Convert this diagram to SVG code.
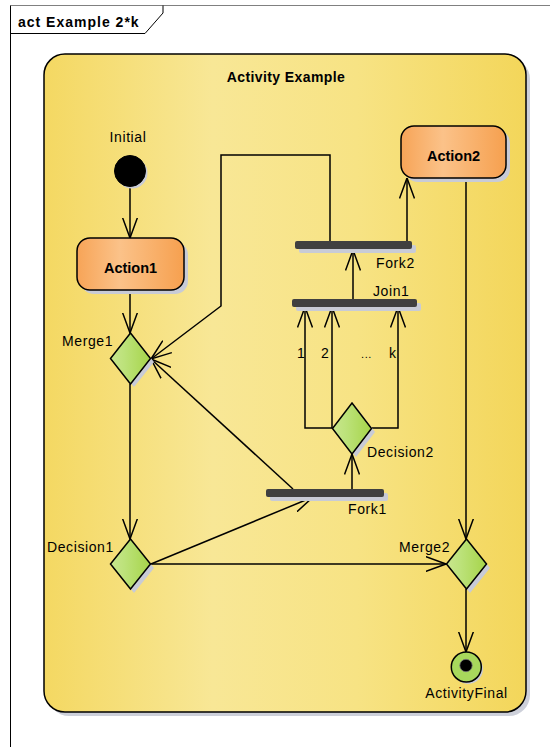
<svg xmlns="http://www.w3.org/2000/svg" width="550" height="747" viewBox="0 0 550 747">
<defs>
<linearGradient id="gAct" x1="0" y1="0" x2="1" y2="0">
<stop offset="0" stop-color="#F4D862"/>
<stop offset="0.35" stop-color="#F8E796"/>
<stop offset="0.65" stop-color="#F7E384"/>
<stop offset="1" stop-color="#F3D65A"/>
</linearGradient>
<linearGradient id="gAction" x1="0" y1="0" x2="1" y2="0">
<stop offset="0" stop-color="#F7A457"/>
<stop offset="0.4" stop-color="#FBC289"/>
<stop offset="1" stop-color="#F6A04F"/>
</linearGradient>
<linearGradient id="gDia" x1="0" y1="0" x2="1" y2="0">
<stop offset="0" stop-color="#C9E68E"/>
<stop offset="0.35" stop-color="#BCE27A"/>
<stop offset="1" stop-color="#A6D449"/>
</linearGradient>
<marker id="arr" viewBox="0 0 21 16" refX="20.5" refY="8" markerWidth="21" markerHeight="16" markerUnits="userSpaceOnUse" orient="auto">
<path d="M0,0.5 L20.5,8 L0,15.5" fill="none" stroke="#000" stroke-width="1.5"/>
</marker>
</defs>
<style>
.lbl{font-family:"Liberation Sans",Arial,sans-serif;font-size:14px;letter-spacing:0.6px;fill:#000}
.bold{font-family:"Liberation Sans",Arial,sans-serif;font-weight:bold;font-size:14px;fill:#000}
.sh{fill:#C8CBD6}
.bar{fill:#404040}
.dia{fill:url(#gDia);stroke:#000;stroke-width:1.5}
.act{fill:url(#gAction);stroke:#000;stroke-width:1.5}
.conn{fill:none;stroke:#000;stroke-width:1.5;marker-end:url(#arr)}
.line{fill:none;stroke:#000;stroke-width:1.5}
</style>
<rect width="550" height="747" fill="#fff"/>
<g id="frame">
<path d="M10.5,747 L10.5,5.5 L550,5.5" fill="none" stroke="#000" stroke-width="1"/>
<path d="M10.5,5.5 L550,5.5" fill="none" stroke="#808080" stroke-width="1.2"/>
<path d="M10.5,33.5 L145,33.5 L163,13 L163,5.5" fill="none" stroke="#000" stroke-width="1"/>
<text x="18" y="26.5" class="bold" style="letter-spacing:1px">act Example 2*k</text>
</g>
<g id="activity">
<rect x="48" y="58" width="482" height="658" rx="21" fill="#CDD0DA"/>
<rect x="44" y="54" width="482" height="658" rx="21" fill="url(#gAct)" stroke="#000" stroke-width="1.5"/>
<text x="286" y="82" class="bold" text-anchor="middle" style="letter-spacing:0.4px">Activity Example</text>
</g>
<g id="connectors">
<path class="conn" d="M130,187 L130,238"/>
<path class="conn" d="M130,290 L130,333"/>
<path class="conn" d="M130,384 L130,539"/>
<path class="conn" d="M151,564 L446,564"/>
<path class="conn" d="M151,564 L313,497"/>
<path class="conn" d="M293,489 L151,359"/>
<path class="conn" d="M352,489 L352,454"/>
<path class="conn" d="M332,428 L305,428 L305,307"/>
<path class="conn" d="M332,428 L332,307"/>
<path class="conn" d="M372,428 L398,428 L398,307"/>
<path class="conn" d="M353,299 L353,250"/>
<path class="conn" d="M407,241 L407,178"/>
<path class="conn" d="M330,241 L330,155 L221,155 L221,306 L151,359"/>
<path class="conn" d="M466,178 L466,539"/>
<path class="conn" d="M466,589 L466,652"/>
<text x="297" y="358" class="lbl">1</text>
<text x="321" y="358" class="lbl">2</text>
<text x="361" y="358" class="lbl" style="font-size:11px">...</text>
<text x="389" y="358" class="lbl">k</text>
</g>
<g id="Initial">
<circle cx="132" cy="173" r="15.5" class="sh"/>
<circle cx="130" cy="171" r="15.5" fill="#000" stroke="#000" stroke-width="1"/>
<text x="128" y="142" class="lbl" text-anchor="middle">Initial</text>
</g>
<g id="Action1">
<rect x="81" y="242" width="107" height="52" rx="13" class="sh"/>
<rect x="77" y="238" width="107" height="52" rx="13" class="act"/>
<text x="130.5" y="273" class="bold" text-anchor="middle" style="font-size:14.5px">Action1</text>
</g>
<g id="Action2">
<rect x="405" y="130" width="105" height="52" rx="13" class="sh"/>
<rect x="401" y="126" width="105" height="52" rx="13" class="act"/>
<text x="453.5" y="161" class="bold" text-anchor="middle" style="font-size:14.5px">Action2</text>
</g>
<g id="Merge1">
<path d="M134,337 L154,362 L134,387 L114,362 Z" class="sh"/>
<path d="M130.5,333 L150.5,358.5 L130.5,384 L110.5,358.5 Z" class="dia"/>
<text x="62" y="346" class="lbl">Merge1</text>
</g>
<g id="Decision1">
<path d="M134,543 L154,568 L134,593 L114,568 Z" class="sh"/>
<path d="M130.5,539 L150.5,564 L130.5,589 L110.5,564 Z" class="dia"/>
<text x="47" y="552" class="lbl">Decision1</text>
</g>
<g id="Merge2">
<path d="M470,543 L490,568 L470,593 L450,568 Z" class="sh"/>
<path d="M466.5,539 L486.5,564 L466.5,589 L446.5,564 Z" class="dia"/>
<text x="399" y="552" class="lbl">Merge2</text>
</g>
<g id="Decision2">
<path d="M356,407 L375,432 L356,457 L337,432 Z" class="sh"/>
<path d="M352,403 L371.5,428.5 L352,454 L332.5,428.5 Z" class="dia"/>
<text x="367" y="457" class="lbl">Decision2</text>
</g>
<g id="Fork1">
<rect x="270" y="493" width="118" height="8" rx="2" class="sh"/>
<rect x="266" y="489" width="118" height="8" rx="2" class="bar"/>
<text x="348" y="514" class="lbl">Fork1</text>
</g>
<g id="Join1">
<rect x="296" y="303" width="125" height="8" rx="2" class="sh"/>
<rect x="292" y="299" width="125" height="8" rx="2" class="bar"/>
<text x="373" y="296" class="lbl">Join1</text>
</g>
<g id="Fork2">
<rect x="299" y="245" width="117" height="8" rx="2" class="sh"/>
<rect x="295" y="241" width="117" height="8" rx="2" class="bar"/>
<text x="376" y="268" class="lbl">Fork2</text>
</g>
<g id="ActivityFinal">
<circle cx="468" cy="669" r="15" class="sh"/>
<circle cx="466.3" cy="667" r="15" fill="#A8D85C" stroke="#000" stroke-width="1.5"/>
<circle cx="466" cy="665.5" r="6.2" fill="#000" stroke="#777" stroke-width="0.8"/>
<text x="466.5" y="698" class="lbl" text-anchor="middle">ActivityFinal</text>
</g>
</svg>
